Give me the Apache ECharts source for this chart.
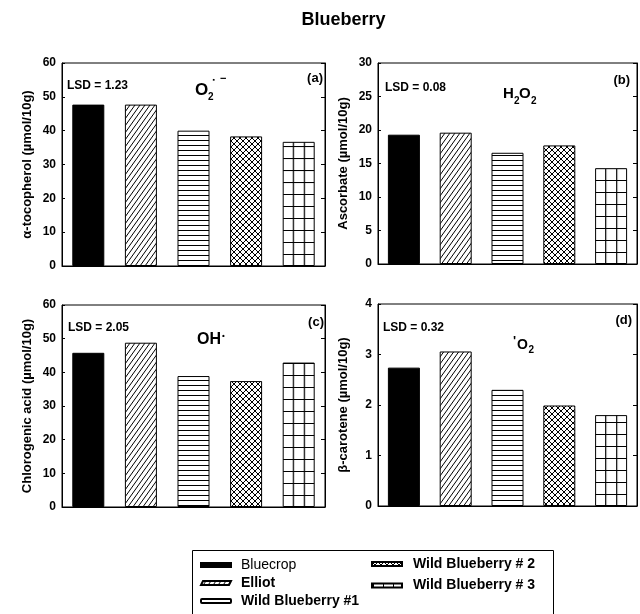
<!DOCTYPE html>
<html><head><meta charset="utf-8">
<script src="https://cdn.jsdelivr.net/npm/echarts@6/dist/echarts.min.js"></script>
<style>html,body{margin:0;padding:0;background:#fff}#c{width:640px;height:614px}</style>
</head><body><div id="c"></div>
<script>
// ---------- data ----------
const cultivars = ['Bluecrop', 'Elliot', 'Wild Blueberry #1', 'Wild Blueberry # 2', 'Wild Blueberry # 3'];
const tocopherol = [47.7, 47.7, 40.0, 38.3, 36.7];   // (a) O2•−
const ascorbate = [19.3, 19.6, 16.6, 17.7, 14.3];    // (b) H2O2
const chlorogenic = [45.8, 48.8, 38.9, 37.4, 42.9];  // (c) OH•
const carotene = [2.74, 3.06, 2.30, 1.99, 1.80];     // (d) 1O2
const axisMax = [60, 30, 60, 4];
const axisInterval = [10, 5, 10, 1];
const axisNames = ['α-tocopherol (µmol/10g)', 'Ascorbate (µmol/10g)', 'Chlorogenic acid (µmol/10g)', 'β-carotene (µmol/10g)'];
const lsdLabels = ['LSD = 1.23', 'LSD = 0.08', 'LSD = 2.05', 'LSD = 0.32'];
const panelLetters = ['(a)', '(b)', '(c)', '(d)'];
const chartTitle = 'Blueberry';

const panels = [tocopherol, ascorbate, chlorogenic, carotene];
const FONT = "'Liberation Sans', Arial, Helvetica, sans-serif";

// ---------- fill patterns ----------
function tile(w, h, draw) {
  const c = document.createElement('canvas');
  c.width = w; c.height = h;
  const g = c.getContext('2d');
  g.fillStyle = '#fff'; g.fillRect(0, 0, w, h);
  g.strokeStyle = '#000'; g.fillStyle = '#000'; g.lineWidth = 1;
  draw(g, w, h);
  return c;
}
const diagTile = tile(5, 7, (g, w, h) => {
  g.beginPath();
  for (let k = -2; k <= 2; k++) { g.moveTo(k * w - w, 2 * h); g.lineTo(k * w + 2 * w, -h); }
  g.stroke();
});
const horizTile = tile(4, 5, (g, w, h) => { g.fillRect(0, 0, w, 1); });
const crossTile = tile(6, 6, (g, w, h) => {
  g.beginPath();
  for (let k = -2; k <= 2; k++) {
    g.moveTo(k * w, 0); g.lineTo(k * w + w, h);
    g.moveTo(k * w, h); g.lineTo(k * w + w, 0);
  }
  g.stroke();
});
const gridTile = tile(32, 12, (g, w, h) => {
  g.fillRect(10, 0, 1.2, h); g.fillRect(21, 0, 1.2, h); g.fillRect(0, 0, w, 1);
});
const vTile = tile(10, 4, (g, w, h) => { g.fillRect(0, 0, 1, h); });
const fills = [
  '#000',
  { image: diagTile, repeat: 'repeat' },
  { image: horizTile, repeat: 'repeat' },
  { image: crossTile, repeat: 'repeat' },
  { image: gridTile, repeat: 'repeat' }
];

// ---------- layout ----------
const grids = [
  { left: 62, top: 63, width: 263, height: 203 },
  { left: 378, top: 63, width: 259, height: 201 },
  { left: 62, top: 305, width: 263, height: 202 },
  { left: 378, top: 304, width: 259, height: 202 }
];

const xAxes = [], yAxes = [], series = [];
panels.forEach((vals, p) => {
  xAxes.push({
    gridIndex: p, type: 'category', data: cultivars,
    axisLabel: { show: false }, axisTick: { show: false },
    axisLine: { lineStyle: { color: '#000', width: 1 } }
  });
  yAxes.push({
    gridIndex: p, type: 'value', min: 0, max: axisMax[p], interval: axisInterval[p],
    position: 'left',
    axisLine: { show: true, lineStyle: { color: '#000', width: 1 } },
    axisTick: { show: true, inside: true, length: 3, lineStyle: { color: '#000' } },
    axisLabel: { color: '#000', fontFamily: FONT, fontWeight: 'bold', fontSize: 12, margin: 6 },
    splitLine: { show: false },
    name: axisNames[p], nameLocation: 'middle', nameGap: 28,
    nameTextStyle: { color: '#000', fontFamily: FONT, fontWeight: 'bold', fontSize: 13 }
  });
  yAxes.push({
    gridIndex: p, type: 'value', min: 0, max: axisMax[p], interval: axisInterval[p],
    position: 'right',
    axisLine: { show: true, lineStyle: { color: '#000', width: 1 } },
    axisTick: { show: true, inside: true, length: 4, lineStyle: { color: '#000' } },
    axisLabel: { show: false }, splitLine: { show: false }
  });
  cultivars.forEach((name, i) => {
    series.push({
      id: 'p' + p + 's' + i,
      type: 'bar', name: name,
      xAxisIndex: p, yAxisIndex: 2 * p, stack: 'panel' + p,
      barWidth: 32,
      data: vals.map((v, j) => (j === i ? v : '-')),
      itemStyle: { color: fills[i], borderColor: '#000', borderWidth: 1 },
      emphasis: { disabled: true }
    });
  });
});

// ---------- texts ----------
function txt(x, y, text, size, align, valign, weight) {
  return {
    type: 'text', x: x, y: y, silent: true,
    style: {
      text: text, fill: '#000', align: align || 'left', verticalAlign: valign || 'middle',
      font: (weight || 'bold') + ' ' + size + 'px ' + FONT
    }
  };
}
const graphics = [
  txt(343.5, 20, chartTitle, 18, 'center'),
  // LSD labels
  txt(67, 86, lsdLabels[0], 12), txt(385, 88, lsdLabels[1], 12),
  txt(68, 327.5, lsdLabels[2], 12), txt(383, 328, lsdLabels[3], 12),
  // panel letters
  txt(323, 78, panelLetters[0], 13, 'right'), txt(630, 80, panelLetters[1], 13, 'right'),
  txt(324, 322, panelLetters[2], 13, 'right'), txt(632, 320, panelLetters[3], 13, 'right'),
  // (a) O2•−
  txt(195, 90, 'O', 17), txt(208, 97, '2', 10), txt(212.5, 80, '▪', 7), txt(220, 79, '−', 11),
  // (b) H2O2
  txt(503, 93.5, 'H', 15), txt(514, 101, '2', 10), txt(519, 93.5, 'O', 15), txt(531, 101, '2', 10),
  // (c) OH•
  txt(197, 339.5, 'OH', 16), txt(222, 336, '•', 8),
  // (d) 'O2
  txt(513, 341, "'", 13), txt(517, 345, 'O', 14), txt(528.5, 350.5, '2', 10),
  // legend frame
  {
    type: 'rect', silent: true,
    shape: { x: 192.5, y: 550.5, width: 361, height: 70 },
    style: { fill: 'none', stroke: '#000', lineWidth: 1 }
  }
];

const legendText = { fontFamily: FONT, fontSize: 14, fontWeight: 'bold', color: '#000' };
const option = {
  animation: false,
  backgroundColor: '#fff',
  grid: grids.map(g => Object.assign({ show: true, borderColor: '#000', borderWidth: 1, backgroundColor: 'transparent' }, g)),
  xAxis: xAxes,
  yAxis: yAxes,
  series: series,
  legend: [
    {
      orient: 'vertical', left: 200, top: 558, height: 120, padding: 0,
      itemWidth: 30, itemHeight: 4, itemGap: 4,
      icon: 'rect', selectedMode: false,
      textStyle: Object.assign({ padding: [0, 0, 0, 5] }, legendText),
      data: [
        { name: cultivars[0], textStyle: { fontWeight: 'normal' } },
        { name: cultivars[1], icon: 'path://M2,0 L30,0 L28,4 L0,4 Z' },
        { name: cultivars[2], icon: 'roundRect' }
      ]
    },
    {
      orient: 'vertical', left: 371, top: 557, height: 120, padding: 0,
      itemWidth: 30, itemHeight: 4, itemGap: 7.5,
      icon: 'rect', selectedMode: false,
      textStyle: Object.assign({ padding: [0, 0, 0, 6] }, legendText),
      data: [
        cultivars[3],
        { name: cultivars[4], itemStyle: { color: { image: vTile, repeat: 'repeat', x: 381, y: 0 } } }
      ]
    }
  ],
  graphic: graphics
};

const chart = echarts.init(document.getElementById('c'), null, { renderer: 'canvas' });
chart.setOption(option);

// align the grid-pattern with the bars of each panel (positions taken from the library's own scales)
const upd = [];
panels.forEach((vals, p) => {
  const pt = chart.convertToPixel({ xAxisIndex: p, yAxisIndex: 2 * p }, [4, 0]);
  upd.push({
    id: 'p' + p + 's4',
    itemStyle: { color: { image: gridTile, repeat: 'repeat', x: pt[0] - 16, y: pt[1] } }
  });
});
chart.setOption({ series: upd });
</script>
</body></html>
